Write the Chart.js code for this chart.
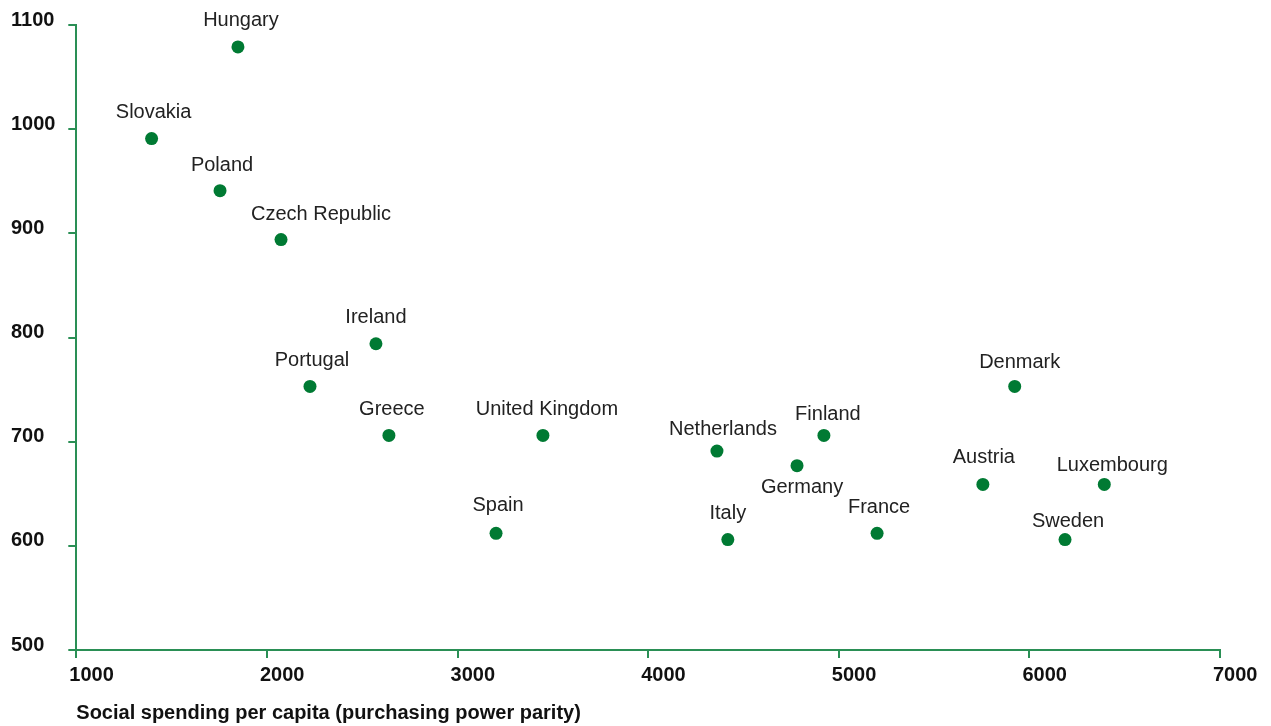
<!DOCTYPE html>
<html>
<head>
<meta charset="utf-8">
<script src="https://cdn.jsdelivr.net/npm/chart.js@4.4.1/dist/chart.umd.min.js"></script>
<style>
  html, body { margin: 0; padding: 0; background: #ffffff; }
  #wrap { position: relative; width: 1271px; height: 726px; }
</style>
</head>
<body>
<div id="wrap"><canvas id="c"></canvas></div>
<script>
// ---- data ----
const countries = ["Hungary", "Slovakia", "Poland", "Czech Republic", "Ireland", "Portugal", "Greece",
  "United Kingdom", "Spain", "Netherlands", "Italy", "Germany", "Finland", "France", "Austria",
  "Denmark", "Luxembourg", "Sweden"];
const spendingPerCapita = [1848, 1395, 1754, 2074, 2572, 2226, 2640, 3448, 3202, 4361, 4418, 4781, 4922, 5201, 5756, 5923, 6393, 6187];
const yValues = [1079, 991, 941, 894, 794, 753, 706, 706, 612, 691, 606, 677, 706, 612, 659, 753, 659, 606];
const xTicks = [1000, 2000, 3000, 4000, 5000, 6000, 7000];
const yTicks = [500, 600, 700, 800, 900, 1000, 1100];
const xAxisTitle = "Social spending per capita (purchasing power parity)";

// ---- label placement (layout only): [dx, dy] from point centre to label baseline ----
const labelOffsets = [[3, -21], [2, -21], [2, -20], [40, -20], [0, -21], [2, -20], [3, -20],
  [4, -20], [2, -22], [6, -16], [0, -21], [5, 27], [4, -15], [2, -20], [1, -21],
  [5, -18], [8, -13], [3, -13]];

const GREEN = '#007a33';
const AXIS = '#2a8f55';
const FONT = "'Liberation Sans', Arial, Helvetica, sans-serif";

const pointLabels = {
  id: 'pointLabels',
  afterDatasetsDraw(chart) {
    const ctx = chart.ctx;
    const meta = chart.getDatasetMeta(0);
    ctx.save();
    ctx.font = "20px " + FONT;
    ctx.fillStyle = '#222222';
    ctx.textAlign = 'center';
    ctx.textBaseline = 'alphabetic';
    meta.data.forEach((el, i) => {
      const off = labelOffsets[i];
      ctx.fillText(countries[i], el.x + off[0], el.y + off[1]);
    });
    ctx.restore();
  }
};

const points = spendingPerCapita.map((x, i) => ({ x: x, y: yValues[i] }));

new Chart(document.getElementById('c'), {
  type: 'scatter',
  data: {
    datasets: [{
      data: points,
      backgroundColor: GREEN,
      borderWidth: 0,
      pointRadius: 6.5,
      pointHoverRadius: 6.5
    }]
  },
  options: {
    responsive: true,
    maintainAspectRatio: false,
    animation: false,
    events: [],
    layout: { padding: { left: 11, right: 51, top: 25, bottom: 0 } },
    plugins: { legend: { display: false }, tooltip: { enabled: false }, title: { display: false } },
    scales: {
      x: {
        type: 'linear',
        min: 1000, max: 7000,
        afterBuildTicks(scale) { scale.ticks = xTicks.map(v => ({ value: v })); },
        border: { display: true, color: AXIS, width: 2 },
        grid: { display: true, drawOnChartArea: false, drawTicks: true, tickLength: 8, color: AXIS, lineWidth: 2 },
        ticks: {
          autoSkip: false, maxRotation: 0, minRotation: 0,
          align: 'start', labelOffset: -7, padding: 5,
          color: '#111111',
          font: { family: FONT, size: 20, weight: 'bold' },
          callback: v => String(v)
        },
        title: {
          display: true, text: xAxisTitle, align: 'start',
          color: '#111111',
          font: { family: FONT, size: 20, weight: 'bold' },
          padding: { top: 9, bottom: 1 }
        }
      },
      y: {
        type: 'linear',
        min: 500, max: 1100,
        afterBuildTicks(scale) { scale.ticks = yTicks.map(v => ({ value: v })); },
        afterFit(scale) { scale.width = 65.3; },
        border: { display: true, color: AXIS, width: 2 },
        grid: { display: true, drawOnChartArea: false, drawTicks: true, tickLength: 8, color: AXIS, lineWidth: 2 },
        ticks: {
          autoSkip: false, crossAlign: 'far', labelOffset: -5, padding: 4,
          color: '#111111',
          font: { family: FONT, size: 20, weight: 'bold' },
          callback: v => String(v)
        }
      }
    }
  },
  plugins: [pointLabels]
});
</script>
</body>
</html>
